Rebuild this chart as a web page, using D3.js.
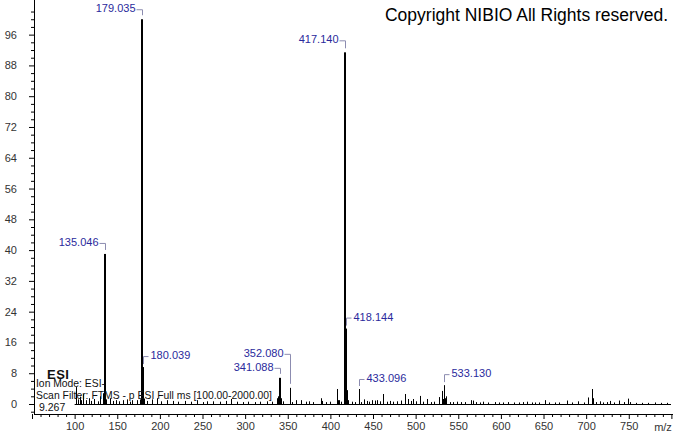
<!DOCTYPE html>
<html>
<head>
<meta charset="utf-8">
<script src="https://cdn.jsdelivr.net/npm/d3@7"></script>
<style>
  html, body { margin: 0; padding: 0; background: #fff; }
  svg { display: block; font-family: Arial, "Liberation Sans", sans-serif; }
</style>
</head>
<body>
<div id="app"></div>
<script>
// spectrum peaks (m/z, relative abundance %)
const mzValues = [
  101.6, 104.0, 106.3, 108.0, 110.2, 113.0, 117.2, 119.0, 123.1, 127.0,
  129.8, 133.7, 134.0, 135.046, 136.05, 137.0, 141.5, 145.0, 149.0, 152.0,
  156.8, 161.0, 165.0, 167.0, 172.8, 177.0, 179.035, 180.039, 181.04, 185.0,
  191.0, 196.3, 201.0, 208.0, 215.0, 221.0, 229.5, 236.0, 243.2, 250.0,
  255.0, 262.3, 271.0, 277.0, 283.5, 291.0, 297.0, 303.7, 311.0, 318.0,
  325.3, 331.0, 337.0, 338.5, 340.0, 341.088, 342.09, 345.0, 352.080, 353.08,
  355.0, 359.7, 365.5, 371.0, 375.0, 380.0, 388.6, 390.0, 395.0, 400.0,
  407.4, 408.4, 410.5, 413.0, 417.140, 418.144, 419.147, 420.15, 425.0, 429.0,
  433.096, 434.1, 436.0, 439.5, 443.0, 445.0, 448.5, 452.0, 455.0, 458.0,
  462.1, 466.0, 470.0, 474.0, 478.0, 483.0, 487.5, 491.4, 494.0, 496.5,
  500.0, 505.0, 509.0, 513.0, 518.0, 522.0, 527.8, 530.5, 532.0, 533.130,
  534.13, 535.6, 540.0, 544.0, 548.0, 553.0, 558.0, 564.5, 567.6, 571.0,
  575.0, 579.4, 585.0, 593.0, 598.0, 603.0, 608.7, 615.0, 621.0, 626.0,
  630.3, 636.0, 640.0, 645.0, 651.7, 657.0, 663.0, 668.0, 677.2, 683.0,
  690.0, 697.0, 702.5, 706.5, 708.4, 712.0, 716.3, 720.0, 724.0, 728.0,
  733.0, 739.0, 744.0, 748.7, 752.0, 758.0, 765.0, 772.0, 780.7, 788.0,
  795.0
];
const intensities = [
  4.4, 1.2, 1.9, 1.0, 2.6, 1.0, 1.5, 0.8, 1.3, 0.7,
  2.0, 2.8, 1.0, 39.0, 3.0, 1.2, 1.5, 0.8, 1.0, 0.7,
  1.0, 1.2, 0.6, 1.0, 1.0, 1.2, 100, 9.6, 1.4, 0.8,
  1.2, 1.5, 0.7, 1.0, 0.8, 0.6, 0.8, 0.6, 1.0, 0.5,
  0.7, 0.7, 0.6, 0.8, 1.3, 0.6, 0.5, 0.6, 0.5, 0.6,
  0.7, 0.6, 1.5, 2.0, 1.4, 6.8, 1.5, 0.7, 4.2, 1.0,
  0.5, 1.0, 1.0, 0.6, 0.7, 0.5, 1.5, 0.8, 0.5, 0.6,
  3.9, 1.0, 1.0, 0.6, 91.4, 19.6, 3.6, 1.0, 0.6, 0.5,
  3.9, 0.8, 0.5, 1.2, 0.8, 0.6, 1.0, 0.9, 1.0, 0.7,
  2.6, 0.6, 0.8, 0.6, 0.7, 0.9, 2.6, 1.3, 0.8, 1.3,
  0.7, 2.1, 0.6, 1.3, 0.5, 0.6, 1.8, 3.4, 1.3, 4.9,
  1.5, 2.0, 0.5, 0.5, 0.6, 0.5, 0.5, 1.0, 0.9, 0.5,
  0.4, 0.6, 0.4, 0.5, 0.4, 0.4, 0.5, 0.4, 0.4, 0.5,
  0.6, 0.4, 0.4, 0.4, 1.0, 0.4, 0.4, 0.4, 0.9, 0.4,
  0.7, 0.4, 1.7, 3.9, 1.5, 0.5, 0.7, 0.4, 0.5, 0.8,
  0.4, 0.9, 0.5, 1.4, 0.5, 0.3, 0.3, 0.3, 0.4, 0.3,
  0.3
];

// annotated peaks
const labelMz = [135.046, 179.035, 180.039, 341.088, 352.080, 417.140, 418.144, 433.096, 533.130];
const labelSide = ["left", "left", "right", "left", "left", "left", "right", "right", "right"];

// axis ticks
const xTickLabels = [100, 150, 200, 250, 300, 350, 400, 450, 500, 550, 600, 650, 700, 750];
const yTickLabels = [0, 8, 16, 24, 32, 40, 48, 56, 64, 72, 80, 88, 96];

const infoLines = ["Ion Mode: ESI-", "Scan Filter: FTMS - p ESI Full ms [100.00-2000.00]", "9.267"];

const width = 673, height = 433;
// how far each label sits above its peak top (px)
const labelRaise = [12, 11, 12, 11, 35, 13, 12, 11, 12];

const x = d3.scaleLinear().domain([50, 800]).range([32, 671.4]);
const y = d3.scaleLinear().domain([0, 105]).range([404, 0]);
const axisX = 34, axisY = 414;

const svg = d3.select("#app").append("svg")
  .attr("width", width)
  .attr("height", height);

const peaks = mzValues.map((m, i) => ({ mz: m, v: intensities[i] }));

// baseline
svg.append("line")
  .attr("x1", x(100)).attr("x2", 671)
  .attr("y1", y(0) + 0.5).attr("y2", y(0) + 0.5)
  .attr("stroke", "#000").attr("stroke-width", 1);

// peaks
svg.append("g").selectAll("rect")
  .data(peaks)
  .enter()
  .append("rect")
  .attr("x", d => Math.round(x(d.mz)) - (d.v > 5 ? 1 : 0))
  .attr("y", d => y(d.v))
  .attr("width", d => d.v > 5 ? 2 : 1)
  .attr("height", d => y(0) + 1 - y(d.v))
  .attr("fill", "#000");

// y axis
const yMinor = d3.range(-2, 105, 2).filter(v => v % 8 !== 0);
svg.append("g")
  .attr("transform", `translate(${axisX},0)`)
  .call(d3.axisLeft(y).tickValues(yMinor).tickSize(3).tickFormat(""))
  .call(g => g.select(".domain").remove());
svg.append("g")
  .attr("transform", `translate(${axisX},0)`)
  .call(d3.axisLeft(y).tickValues(yTickLabels).tickSize(5).tickPadding(12))
  .call(g => g.select(".domain").remove())
  .call(g => g.selectAll("text").attr("font-size", 11).attr("fill", "#333").attr("font-family", "Arial, 'Liberation Sans', sans-serif"));

// x axis
const xMinor = d3.range(50, 801, 10).filter(v => v % 50 !== 0);
svg.append("g")
  .attr("transform", `translate(0,${axisY})`)
  .call(d3.axisBottom(x).tickValues(xMinor).tickSize(3).tickFormat(""))
  .call(g => g.select(".domain").remove());
svg.append("g")
  .attr("transform", `translate(0,${axisY})`)
  .call(d3.axisBottom(x).tickValues(d3.range(50, 801, 50)).tickSize(5)
    .tickFormat(d => xTickLabels.includes(d) ? d : ""))
  .call(g => g.select(".domain").remove())
  .call(g => g.selectAll("text").attr("font-size", 11).attr("fill", "#333").attr("font-family", "Arial, 'Liberation Sans', sans-serif"));

svg.append("line")
  .attr("x1", axisX + 0.5).attr("x2", axisX + 0.5)
  .attr("y1", 0).attr("y2", axisY)
  .attr("stroke", "#000");
svg.append("line")
  .attr("x1", axisX).attr("x2", width)
  .attr("y1", axisY + 0.5).attr("y2", axisY + 0.5)
  .attr("stroke", "#000");

svg.append("text")
  .attr("x", 663).attr("y", 431)
  .attr("text-anchor", "middle")
  .attr("font-size", 11).attr("fill", "#333")
  .text("m/z");

// peak labels
const labelColor = "#2a2a9c", connColor = "#8c8cb0";
const labels = svg.append("g");
labelMz.forEach((m, i) => {
  const px = Math.round(x(m)) + 0.5;
  const v = intensities[mzValues.indexOf(m)];
  const top = y(v);
  const cy = top - labelRaise[i];
  const left = labelSide[i] === "left";
  labels.append("path")
    .attr("d", left
      ? `M${px - 6},${cy + 1.5}H${px}V${top - 4}`
      : `M${px + 5},${cy + 1.5}H${px}V${top - 3}`)
    .attr("fill", "none").attr("stroke", connColor).attr("stroke-width", 1);
  labels.append("text")
    .attr("x", left ? px - 7 : px + 7)
    .attr("y", cy + 4)
    .attr("text-anchor", left ? "end" : "start")
    .attr("font-size", 11)
    .attr("fill", labelColor)
    .text(m.toFixed(3));
});

// header
svg.append("text")
  .attr("x", 668).attr("y", 21)
  .attr("text-anchor", "end")
  .attr("font-size", 17.5)
  .attr("fill", "#000")
  .text("Copyright NIBIO All Rights reserved.");

// scan info
svg.append("text")
  .attr("x", 47).attr("y", 379)
  .attr("font-size", 13).attr("font-weight", "bold")
  .attr("letter-spacing", 0.5)
  .attr("fill", "#111")
  .text("ESI");
svg.append("text")
  .attr("x", 36).attr("y", 387)
  .attr("font-size", 10.5).attr("fill", "#111")
  .attr("textLength", 69).attr("lengthAdjust", "spacingAndGlyphs")
  .text(infoLines[0]);
svg.append("text")
  .attr("x", 36).attr("y", 399)
  .attr("font-size", 10.5).attr("fill", "#111")
  .attr("textLength", 236).attr("lengthAdjust", "spacingAndGlyphs")
  .text(infoLines[1]);
svg.append("text")
  .attr("x", 39).attr("y", 411)
  .attr("font-size", 10.5).attr("fill", "#111")
  .text(infoLines[2]);
</script>
</body>
</html>
